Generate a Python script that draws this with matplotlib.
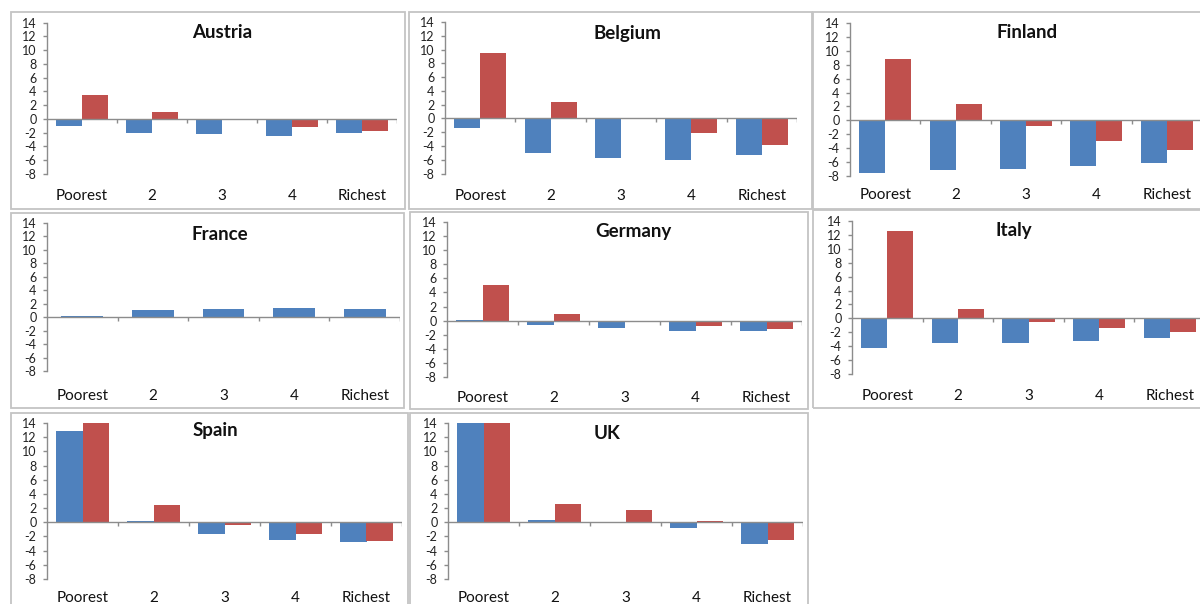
import matplotlib
matplotlib.use("Agg")
import matplotlib.pyplot as plt
from matplotlib.patches import Rectangle
import numpy as np

plt.rcParams['font.family'] = ['Lato', 'DejaVu Sans']

W, H = 1200, 604

quintiles = ['Poorest', '2', '3', '4', 'Richest']
yticks = [14, 12, 10, 8, 6, 4, 2, 0, -2, -4, -6, -8]

countries = ['Austria', 'Belgium', 'Finland', 'France', 'Germany', 'Italy', 'Spain', 'UK']

# change by income quintile, two series per country (France has only the first)
blue = {
    'Austria': [-1.0, -2.0, -2.2, -2.5, -2.1],
    'Belgium': [-1.4, -5.0, -5.8, -6.1, -5.3],
    'Finland': [-7.6, -7.1, -7.0, -6.6, -6.2],
    'France':  [0.2, 1.1, 1.2, 1.4, 1.2],
    'Germany': [0.1, -0.6, -1.1, -1.4, -1.4],
    'Italy':   [-4.3, -3.5, -3.5, -3.2, -2.8],
    'Spain':   [12.9, 0.2, -1.6, -2.5, -2.8],
    'UK':      [14.0, 0.3, 0.0, -0.8, -3.0],
}
red = {
    'Austria': [3.5, 1.0, -0.1, -1.2, -1.7],
    'Belgium': [9.5, 2.4, 0.1, -2.1, -3.8],
    'Finland': [8.8, 2.3, -0.8, -3.0, -4.3],
    'France':  None,
    'Germany': [5.0, 0.9, 0.0, -0.7, -1.2],
    'Italy':   [12.5, 1.4, -0.5, -1.4, -1.9],
    'Spain':   [14.0, 2.4, -0.4, -1.7, -2.6],
    'UK':      [14.0, 2.6, 1.7, 0.2, -2.5],
}

# layout in pixels: chart frame (x0, y0, x1, y1), plot area (left, top, right, bottom)
frames = {
    'Austria': (11, 12, 405, 209),
    'Belgium': (409, 12, 812, 209),
    'Finland': (813, 12, 1210, 209),
    'France':  (11, 213, 404, 408),
    'Germany': (410, 212, 808, 409),
    'Italy':   (813, 210, 1210, 408),
    'Spain':   (11, 413, 408, 620),
    'UK':      (410, 413, 808, 620),
}
areas = {
    'Austria': (47, 22.7, 397, 174),
    'Belgium': (445, 22, 797, 173.5),
    'Finland': (850, 23, 1202, 176),
    'France':  (47, 223, 400, 371),
    'Germany': (447, 222, 802, 377),
    'Italy':   (852, 221, 1205, 374),
    'Spain':   (47, 423, 402, 579),
    'UK':      (448, 423, 803, 579),
}
# distance (px) from the plot bottom to the middle of the category labels
label_gap = {'Austria': 21, 'Belgium': 21.5, 'Finland': 19, 'France': 25,
             'Germany': 20, 'Italy': 21, 'Spain': 19, 'UK': 19}
title_x = {'Austria': 0.50, 'Belgium': 0.517, 'Finland': 0.503, 'France': 0.49,
           'Germany': 0.524, 'Italy': 0.459, 'Spain': 0.473, 'UK': 0.448}
title_y = {'Austria': 0.932, 'Belgium': 0.925, 'Finland': 0.94, 'France': 0.925,
           'Germany': 0.94, 'Italy': 0.94, 'Spain': 0.95, 'UK': 0.93}

BLUE = '#4F81BD'
RED = '#C0504D'
AXIS = '#8C8C8C'

fig = plt.figure(figsize=(W / 100, H / 100), dpi=100)
fig.patch.set_facecolor('white')

for c in countries:
    x0, y0, x1, y1 = frames[c]
    fig.add_artist(Rectangle((x0 / W, 1 - y1 / H), (x1 - x0) / W, (y1 - y0) / H,
                             transform=fig.transFigure, fill=False,
                             edgecolor='#C4C4C4', linewidth=1.3))

    l, t, r, b = areas[c]
    ax = fig.add_axes([l / W, 1 - b / H, (r - l) / W, (b - t) / H])
    x = np.arange(len(quintiles))
    if red[c] is None:
        ax.bar(x, blue[c], width=0.59, color=BLUE, linewidth=0)
    else:
        ax.bar(x - 0.185, blue[c], width=0.37, color=BLUE, linewidth=0)
        ax.bar(x + 0.185, red[c], width=0.37, color=RED, linewidth=0)

    ax.set_xlim(-0.5, 4.5)
    ax.set_ylim(-8, 14)
    ax.axhline(0, color=AXIS, linewidth=1.0, zorder=1)
    ax.vlines(np.arange(0.5, 5, 1.0), -0.55, 0, color=AXIS, linewidth=1.0)

    for s in ['top', 'right', 'bottom']:
        ax.spines[s].set_visible(False)
    ax.spines['left'].set_color(AXIS)
    ax.spines['left'].set_linewidth(1.0)

    ax.set_yticks(yticks)
    ax.set_yticklabels([str(v) for v in yticks])
    ax.tick_params(axis='y', length=3, width=1.0, color=AXIS, pad=4.5,
                   labelsize=9, labelcolor='#222222')
    ax.set_xticks(x)
    ax.set_xticklabels(quintiles)
    ax.tick_params(axis='x', length=0, pad=(label_gap[c] - 6.5) * 0.72,
                   labelsize=11, labelcolor='#111111')

    ax.text(title_x[c], title_y[c], c, transform=ax.transAxes, ha='center', va='center',
            fontsize=13.5, fontweight='bold', color='#111111')

fig.savefig('out.png', dpi=100)
